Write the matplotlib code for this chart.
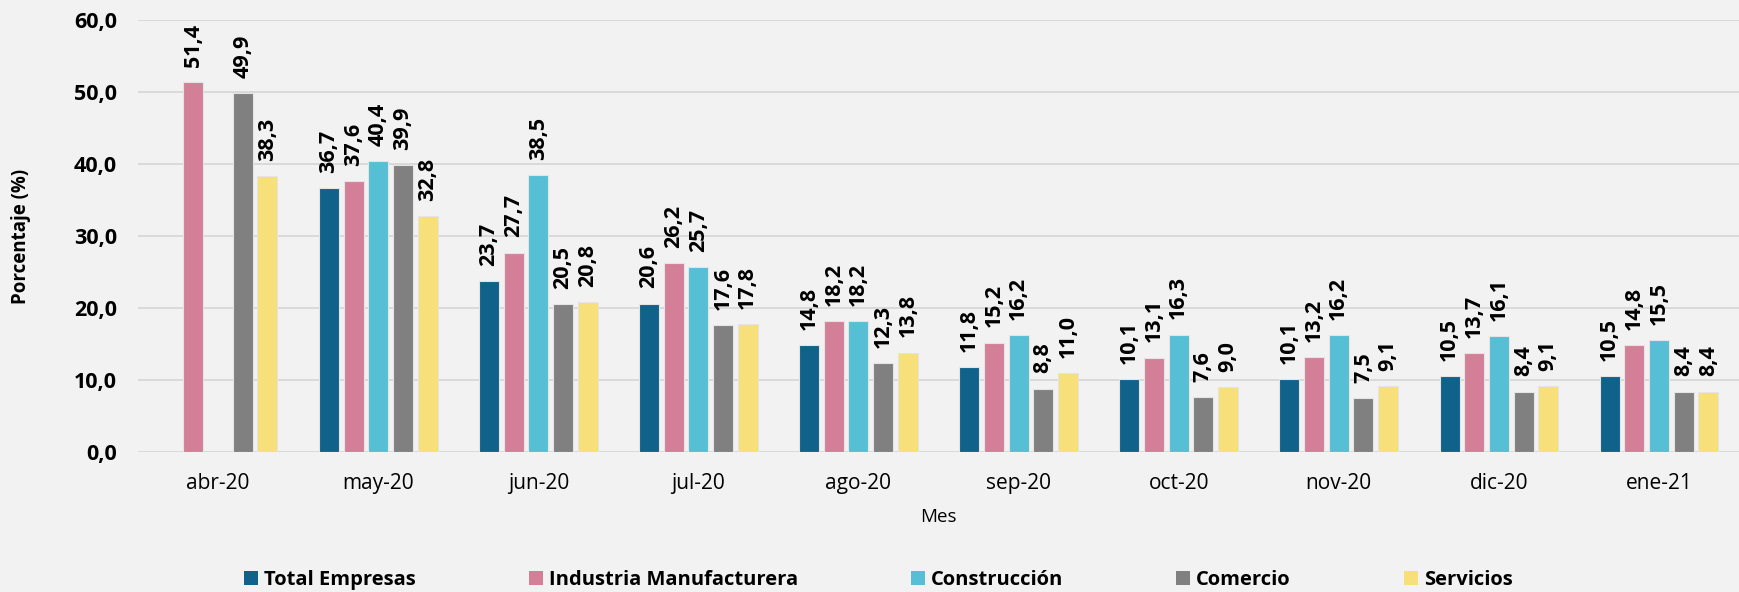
import numpy as np
import matplotlib
matplotlib.use("Agg")
import matplotlib.pyplot as plt
from matplotlib.patches import Patch

plt.rcParams['font.family'] = ['Open Sans', 'DejaVu Sans']

months = ["abr-20", "may-20", "jun-20", "jul-20", "ago-20", "sep-20",
          "oct-20", "nov-20", "dic-20", "ene-21"]
series_names = ["Total Empresas", "Industria Manufacturera", "Construcción",
                "Comercio", "Servicios"]
total_empresas = [np.nan, 36.7, 23.7, 20.6, 14.8, 11.8, 10.1, 10.1, 10.5, 10.5]
industria = [51.4, 37.6, 27.7, 26.2, 18.2, 15.2, 13.1, 13.2, 13.7, 14.8]
construccion = [np.nan, 40.4, 38.5, 25.7, 18.2, 16.2, 16.3, 16.2, 16.1, 15.5]
comercio = [49.9, 39.9, 20.5, 17.6, 12.3, 8.8, 7.6, 7.5, 8.4, 8.4]
servicios = [38.3, 32.8, 20.8, 17.8, 13.8, 11.0, 9.0, 9.1, 9.1, 8.4]
yticks = [0, 10, 20, 30, 40, 50, 60]

series = [total_empresas, industria, construccion, comercio, servicios]
colors = ["#10628A", "#D47F98", "#56BFD6", "#808080", "#F7E07A"]

bg = "#F2F2F2"
fig = plt.figure(figsize=(17.39, 5.92), dpi=100, facecolor=bg)
ax = fig.add_axes([0.0794, 0.2365, 0.9206, 0.7295], facecolor=bg)

x = np.arange(len(months))
slot = 0.154
bw = 0.125
for i, (vals, c) in enumerate(zip(series, colors)):
    pos = x + (i - 2) * slot
    vals = np.array(vals, dtype=float)
    ax.bar(pos, vals, width=bw, color=c, edgecolor="#E4E4E4", linewidth=0.8, zorder=3)
    for p, v in zip(pos, vals):
        if np.isnan(v):
            continue
        ax.annotate(f"{v:.1f}".replace(".", ","), xy=(p, v), xytext=(0, 11),
                    textcoords="offset points", rotation=90, ha="center", va="bottom",
                    fontsize=15.5, fontweight="bold", color="black", annotation_clip=False)

ax.set_xlim(-0.5, len(months) - 0.5)
ax.set_ylim(0, 60)
ax.set_yticks(yticks)
ax.set_yticklabels([f"{t:.1f}".replace(".", ",") for t in yticks], fontsize=15.5, fontweight="bold")
ax.set_xticks(x)
ax.set_xticklabels(months, fontsize=15)
ax.tick_params(axis="both", length=0)
ax.tick_params(axis="y", pad=15)
ax.tick_params(axis="x", pad=15)
ax.grid(axis="y", color="#D9D9D9", linewidth=1.4, zorder=0)
for s in ax.spines.values():
    s.set_visible(False)

ax.set_xlabel("Mes", fontsize=13.5, labelpad=10)
fig.text(0.012, 0.6, "Porcentaje (%)", rotation=90, ha="center", va="center",
         fontsize=13.5, fontweight="bold")

handles = [Patch(facecolor=c, edgecolor="none") for c in colors]
leg = fig.legend(handles, series_names, loc="center", bbox_to_anchor=(0.505, 0.02),
                 ncol=5, frameon=False, prop={"size": 14.5, "weight": "bold"},
                 handlelength=0.7, handleheight=0.7, handletextpad=0.3,
                 columnspacing=5.6)

fig.savefig("out.png", dpi=100, facecolor=bg)
